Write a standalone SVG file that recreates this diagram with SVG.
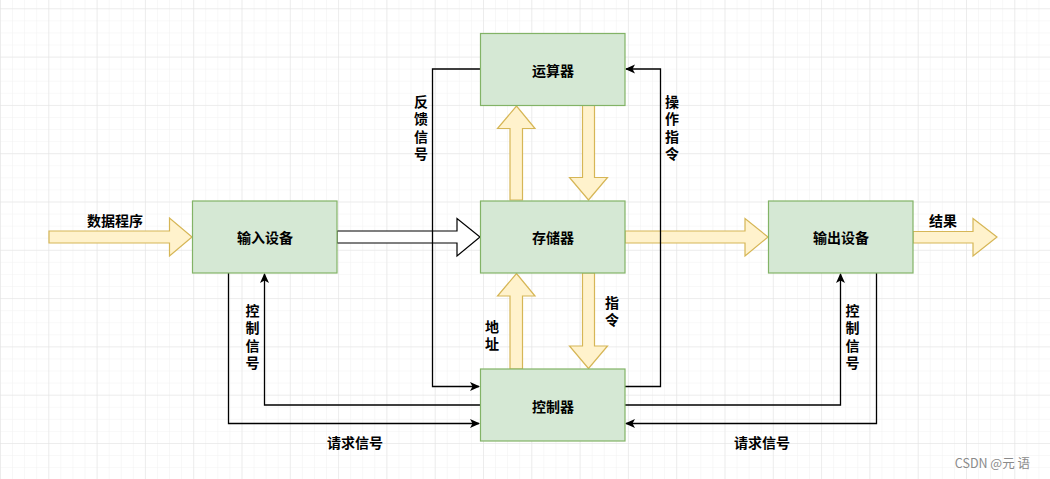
<svg xmlns="http://www.w3.org/2000/svg" width="1050" height="479" viewBox="0 0 1050 479">
<defs>
<pattern id="minor" patternUnits="userSpaceOnUse" x="0" y="8.3" width="12.075" height="12.075">
<path d="M 0 0 H 12.075 M 0 0 V 12.075" fill="none" stroke="#f1f1f1" stroke-width="1"/>
</pattern>
<pattern id="major" patternUnits="userSpaceOnUse" x="0" y="8.3" width="48.3" height="48.3">
<path d="M 0 0 H 48.3 M 0 0 V 48.3" fill="none" stroke="#e2e2e2" stroke-width="1"/>
</pattern>
<marker id="arr" viewBox="0 0 10 10" refX="9" refY="5" markerWidth="10" markerHeight="10" markerUnits="userSpaceOnUse" orient="auto">
<path d="M0,0.5 L10,5 L0,9.5 L2.5,5 Z" fill="#000"/>
</marker>
<style>
.node rect{fill:#d5e8d4;stroke:#82b366;stroke-width:1.2}
.lbl{font-family:"Noto Sans CJK SC","Noto Sans",sans-serif;font-size:14px;font-weight:bold;fill:#000;text-anchor:middle;dominant-baseline:central}
.big{fill:#fff2cc;stroke:#d6b656;stroke-width:1.2}
.wh{fill:#fff;stroke:#000;stroke-width:1.2}
.ln{fill:none;stroke:#000;stroke-width:1.3}
</style>
</defs>
<rect width="1050" height="479" fill="#fff"/>
<rect width="1050" height="479" fill="url(#minor)"/>
<rect width="1050" height="479" fill="url(#major)"/>

<g id="connectors">
<path class="big" d="M49,231 H169.5 V218 L192,237 L169.5,256 V243 H49 Z"/>
<path class="wh" d="M337,231 H457 V218.5 L480,237 L457,256 V243 H337 Z"/>
<path class="big" d="M625,231 H745 V218.5 L768,237 L745,256 V243 H625 Z"/>
<path class="big" d="M913,231.5 H973 V218.5 L997,237 L973,256 V243 H913 Z"/>
<path class="big" d="M510,200 V128.5 H497.5 L516.5,106 L535,128.5 H522.5 V200 Z"/>
<path class="big" d="M582.5,105 V177.5 H569.5 L588.5,200 L607.5,177.5 H594.5 V105 Z"/>
<path class="big" d="M510,369 V296 H497.5 L516.5,273.5 L535,296 H522.5 V369 Z"/>
<path class="big" d="M582.5,273 V346 H569.5 L588.5,368.5 L607.5,346 H594.5 V273 Z"/>
<path class="ln" d="M480,69 H432.5 V386.5 H479" marker-end="url(#arr)"/>
<path class="ln" d="M625,386.5 H660.5 V69 H626" marker-end="url(#arr)"/>
<path class="ln" d="M480,405 H264.5 V274" marker-end="url(#arr)"/>
<path class="ln" d="M228.5,273 V423.5 H479" marker-end="url(#arr)"/>
<path class="ln" d="M625,405 H840.5 V274" marker-end="url(#arr)"/>
<path class="ln" d="M876.5,273 V423.5 H626" marker-end="url(#arr)"/>
</g>

<g id="n-alu" class="node"><rect x="480.5" y="33.5" width="144.5" height="72"/><text class="lbl" x="553" y="69.5">运算器</text></g>
<g id="n-mem" class="node"><rect x="480.5" y="201" width="144.5" height="72"/><text class="lbl" x="553" y="237">存储器</text></g>
<g id="n-ctl" class="node"><rect x="480.5" y="369" width="144.5" height="72"/><text class="lbl" x="553" y="405.5">控制器</text></g>
<g id="n-in" class="node"><rect x="192.5" y="201" width="144.5" height="72"/><text class="lbl" x="265" y="237">输入设备</text></g>
<g id="n-out" class="node"><rect x="768.5" y="201" width="144.5" height="72"/><text class="lbl" x="841" y="237">输出设备</text></g>

<g id="labels">
<text class="lbl" x="115" y="219.5">数据程序</text>
<text class="lbl" x="943" y="220">结果</text>
<text class="lbl" x="421" y="100.5">反</text><text class="lbl" x="421" y="118">馈</text><text class="lbl" x="421" y="135.5">信</text><text class="lbl" x="421" y="153">号</text>
<text class="lbl" x="672" y="100.5">操</text><text class="lbl" x="672" y="118">作</text><text class="lbl" x="672" y="135.5">指</text><text class="lbl" x="672" y="153">令</text>
<text class="lbl" x="492" y="325.5">地</text><text class="lbl" x="492" y="343">址</text>
<text class="lbl" x="612" y="301.5">指</text><text class="lbl" x="612" y="319">令</text>
<text class="lbl" x="252.5" y="309.5">控</text><text class="lbl" x="252.5" y="327">制</text><text class="lbl" x="252.5" y="344.5">信</text><text class="lbl" x="252.5" y="362">号</text>
<text class="lbl" x="852.5" y="309.5">控</text><text class="lbl" x="852.5" y="327">制</text><text class="lbl" x="852.5" y="344.5">信</text><text class="lbl" x="852.5" y="362">号</text>
<text class="lbl" x="355" y="442">请求信号</text>
<text class="lbl" x="762" y="442">请求信号</text>
<text x="1030" y="468" font-family="'Noto Sans CJK SC','Noto Sans',sans-serif" font-size="12.5" fill="#8a8a8a" text-anchor="end">CSDN @元 语</text>
</g>
</svg>
